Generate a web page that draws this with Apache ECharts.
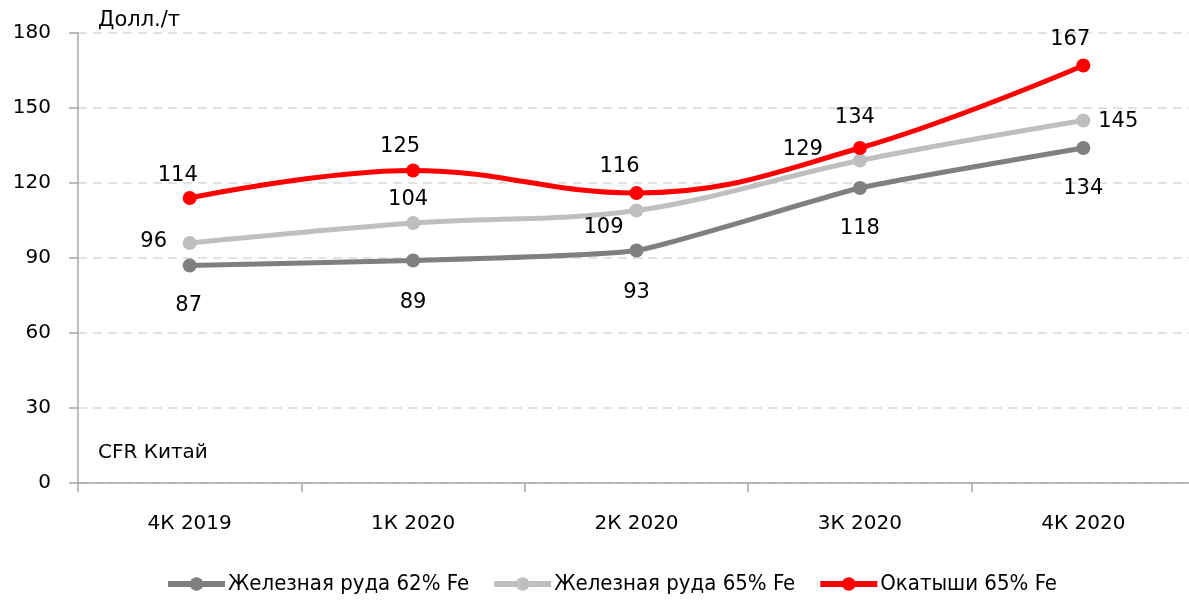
<!DOCTYPE html>
<html><head><meta charset="utf-8">
<script src="https://cdn.jsdelivr.net/npm/echarts@6/dist/echarts.min.js"></script>
<style>html,body{margin:0;padding:0;background:#fff}#c{width:1189px;height:601px}</style>
</head><body><div id="c"></div>
<script>
const categories = ['4К 2019', '1К 2020', '2К 2020', '3К 2020', '4К 2020'];
const ore62 = [87, 89, 93, 118, 134];
const ore65 = [96, 104, 109, 129, 145];
const pellets = [114, 125, 116, 134, 167];
const seriesNames = ['Железная руда 62% Fe', 'Железная руда 65% Fe', 'Окатыши 65% Fe'];
const yTicks = [0, 30, 60, 90, 120, 150, 180];

const FONT = '"DejaVu Sans", sans-serif';
const FONT_C = '"DejaVu Sans Condensed", "DejaVu Sans", sans-serif';
const chart = echarts.init(document.getElementById('c'), null, {renderer: 'canvas'});

// label placement (pixel offsets from each point)
const offs62 = [[-1, 40], [0, 42], [0, 42], [0, 41], [0, 41]];
const offs65 = [[-36, -1], [-5, -23], [-33, 17], [-57, -11], [35, 1]];
const offsPel = [[-12, -22], [-13, -24], [-17, -26], [-5, -30], [-13, -26]];

function mk(name, vals, color, offs, smooth, z) {
  return {
    name, type: 'line', smooth, z,
    data: vals.map((v, i) => ({value: v, label: {offset: offs[i]}})),
    symbol: 'circle', symbolSize: 14,
    lineStyle: {width: 5, color},
    itemStyle: {color},
    label: {show: true, position: 'inside', fontFamily: FONT, fontSize: 21, color: '#000', formatter: '{c}'}
  };
}

const option = {
  animation: false,
  grid: {left: 78, top: 33, width: 1117, height: 450, outerBoundsMode: 'none', containLabel: false},
  xAxis: {
    type: 'category', data: categories, boundaryGap: true,
    axisLine: {lineStyle: {color: '#a6a6a6', width: 1.5}},
    axisTick: {show: true, length: 9, lineStyle: {color: '#a6a6a6', width: 1.5}},
    axisLabel: {fontFamily: FONT, fontSize: 20, color: '#000', margin: 31}
  },
  yAxis: {
    type: 'value', min: 0, max: 180, interval: 30,
    axisLine: {show: true, lineStyle: {color: '#a6a6a6', width: 1.5}},
    axisTick: {show: true, length: 9, lineStyle: {color: '#a6a6a6', width: 1.5}},
    axisLabel: {fontFamily: FONT, fontSize: 20, color: '#000', margin: 27,
      formatter: v => yTicks.includes(v) ? String(v) : ''},
    splitLine: {show: true, lineStyle: {color: '#d9d9d9', type: [9, 6], width: 1.5}}
  },
  legend: {
    bottom: 6, left: 165, padding: 0, itemWidth: 57, itemHeight: 17, itemGap: 22,
    lineStyle: {width: 6},
    textStyle: {fontFamily: FONT_C, fontSize: 22, color: '#000', padding: [0, 0, 0, -2]},
    data: seriesNames
  },
  graphic: [
    {type: 'text', left: 98, top: 10, style: {text: 'Долл./т', font: '21px ' + FONT, fill: '#000'}},
    {type: 'text', left: 98, top: 443, style: {text: 'CFR Китай', font: '20px ' + FONT, fill: '#000'}}
  ],
  series: [
    mk(seriesNames[0], ore62, '#7f7f7f', offs62, 0.15, 2),
    mk(seriesNames[1], ore65, '#bfbfbf', offs65, 0.35, 2),
    mk(seriesNames[2], pellets, '#ff0000', offsPel, 0.4, 3)
  ]
};
chart.setOption(option);
</script></body></html>
